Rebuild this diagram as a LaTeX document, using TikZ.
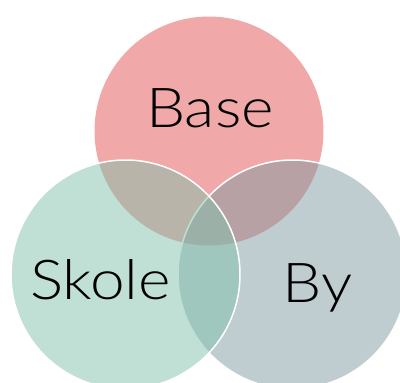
\documentclass[tikz,border=0pt]{standalone}
\usepackage{fontspec}
\setmainfont{Lato}[UprightFont=* Light]
\usetikzlibrary{calc}

\definecolor{basered}{RGB}{225,81,81}
\definecolor{skolegreen}{RGB}{129,193,173}
\definecolor{bygrey}{RGB}{127,155,163}

\def\rad{114.5pt}

\begin{document}
\begin{tikzpicture}[x=1pt,y=-1pt,
    ring/.style={fill opacity=0.5},
    rim/.style={draw=white,line width=1.5pt},
    word/.style={anchor=base,inner sep=0pt,xscale=1.13,font=\fontsize{55}{60}\selectfont}]

\useasboundingbox (0,0) rectangle (400,383);

%top circle (red), no rim
\fill[ring,basered] (209,131) circle [radius=\rad];

%right circle (grey), white rim
\path[ring,fill=bygrey,rim] (292.5,274.5) circle [radius=\rad];

%left circle (green) on top
\path[ring,fill=skolegreen,rim] (125.5,274.5) circle [radius=\rad];

%labels
\node[word] (base) at (210,127) {Base};
\node[word] (skole) at (100.5,299) {Skole};
\node[word] (by) at (317.5,302) {By};

\end{tikzpicture}
\end{document}
